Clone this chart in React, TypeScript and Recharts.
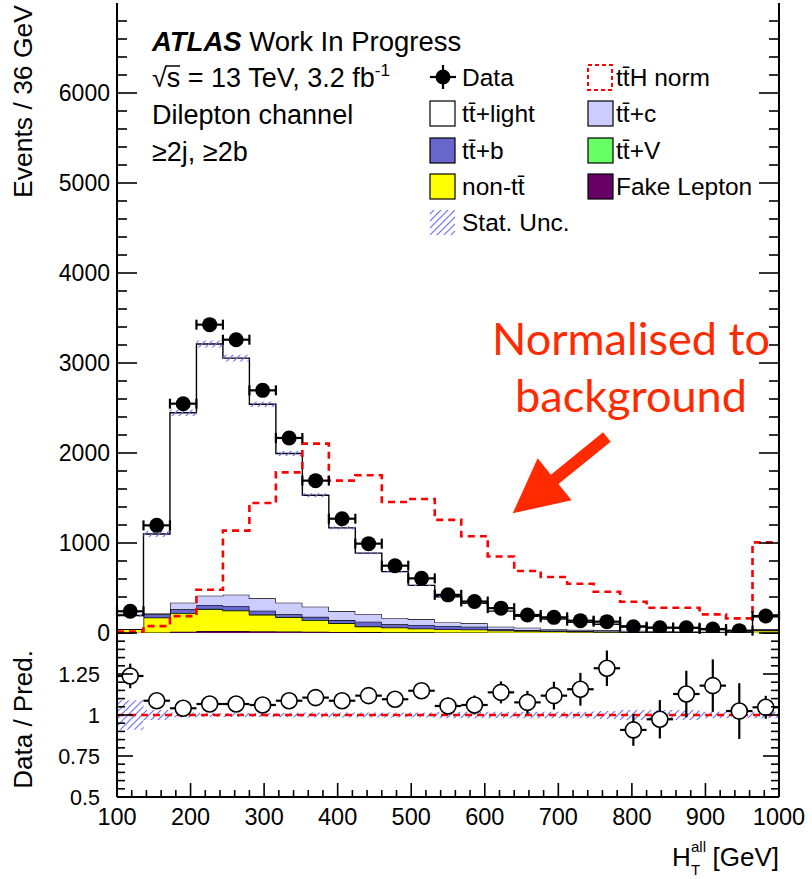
import React from 'react';
import {
  ComposedChart,
  Area,
  Line,
  Scatter,
  XAxis,
  YAxis,
  ErrorBar,
  ReferenceLine,
} from 'recharts';

const FONT = "'Liberation Sans', Arial, Helvetica, sans-serif";

// ---------------- data ----------------
const binEdges = [100, 136, 172, 208, 244, 280, 316, 352, 388, 424, 460, 496, 532, 568, 604, 640, 676, 712, 748, 784, 820, 856, 892, 928, 964, 1000];
const binCenters = [118, 154, 190, 226, 262, 298, 334, 370, 406, 442, 478, 514, 550, 586, 622, 658, 694, 730, 766, 802, 838, 874, 910, 946, 982];
const binHalfWidth = 18;

const dataEvents = [241, 1196, 2548, 3426, 3259, 2696, 2167, 1693, 1270, 993, 748, 607, 424, 350, 276, 200, 174, 137, 126, 70, 59, 59, 44, 26, 189];
const dataErr = [16, 35, 50, 59, 57, 52, 47, 41, 36, 32, 27, 25, 21, 19, 17, 14, 13, 12, 11, 8, 8, 8, 7, 5, 14];

const ttLight = [151, 882, 2111, 2796, 2628, 2156, 1657, 1238, 924, 677, 515, 374, 284, 223, 173, 127, 111, 83, 68, 52, 41, 34, 24, 14, 136];
const ttC = [0, 11, 74, 104, 126, 137, 130, 113, 100, 85, 71, 66, 40, 37, 29, 26, 18, 14, 12, 10, 8, 7, 5, 4, 10];
const ttB = [2, 34, 40, 42, 46, 42, 28, 35, 33, 52, 34, 38, 35, 31, 13, 9, 7, 6, 5, 4, 3, 3, 2, 2, 6];
const ttV = [1, 3, 5, 6, 6, 6, 5, 5, 4, 4, 3, 3, 3, 2, 2, 2, 2, 1, 1, 1, 1, 1, 1, 1, 3];
const nonTT = [38, 165, 203, 241, 226, 180, 156, 125, 95, 60, 51, 41, 34, 32, 22, 19, 15, 12, 10, 8, 7, 6, 4, 3, 22];
const fakeLep = [3, 5, 15, 22, 22, 20, 18, 15, 12, 10, 8, 7, 6, 5, 4, 3, 3, 2, 2, 2, 1, 1, 1, 1, 3];
const mcStatRel = [0.09, 0.03, 0.015, 0.012, 0.012, 0.012, 0.014, 0.015, 0.015, 0.015, 0.015, 0.015, 0.02, 0.02, 0.02, 0.02, 0.02, 0.02, 0.025, 0.03, 0.03, 0.03, 0.02, 0.02, 0.02];

const ttHnorm = [15, 76, 187, 481, 1137, 1444, 1785, 2104, 1693, 1752, 1456, 1489, 1257, 1075, 850, 689, 622, 548, 459, 348, 281, 281, 207, 163, 1007];

const ratio = [1.238, 1.087, 1.041, 1.067, 1.067, 1.061, 1.087, 1.106, 1.087, 1.118, 1.096, 1.148, 1.055, 1.061, 1.138, 1.077, 1.118, 1.157, 1.285, 0.909, 0.974, 1.128, 1.179, 1.024, 1.047];
const ratioErr = [0.075, 0.035, 0.022, 0.02, 0.02, 0.022, 0.025, 0.028, 0.032, 0.036, 0.04, 0.047, 0.052, 0.058, 0.067, 0.07, 0.085, 0.1, 0.108, 0.097, 0.117, 0.142, 0.16, 0.17, 0.07];

const xMajorTicks = [100, 200, 300, 400, 500, 600, 700, 800, 900, 1000];
const xTickLabels = ['100', '200', '300', '400', '500', '600', '700', '800', '900', '1000'];
const yMajorTicks = [0, 1000, 2000, 3000, 4000, 5000, 6000];
const yTickLabels = ['0', '1000', '2000', '3000', '4000', '5000', '6000'];
const rMajorTicks = [0.5, 0.75, 1, 1.25];
const rTickLabels = ['0.5', '0.75', '1', '1.25'];

// ---------------- tables built for the library ----------------
const stackRows = binEdges.map((x, i) => {
  const k = Math.min(i, binCenters.length - 1);
  const tot = ttLight[k] + ttC[k] + ttB[k] + ttV[k] + nonTT[k] + fakeLep[k];
  return {
    x,
    fake: fakeLep[k],
    nontt: nonTT[k],
    ttv: ttV[k],
    ttb: ttB[k],
    ttc: ttC[k],
    light: ttLight[k],
    tth: ttHnorm[k],
    unc: [tot * (1 - mcStatRel[k]), tot * (1 + mcStatRel[k])],
    runc: [1 - mcStatRel[k], 1 + mcStatRel[k]],
  };
});

const dataPoints = binCenters.map((x, i) => ({ x, y: dataEvents[i], ex: binHalfWidth, ey: dataErr[i] }));
const ratioPoints = binCenters.map((x, i) => ({ x, y: ratio[i], ex: binHalfWidth, ey: ratioErr[i] }));

const range = (a: number, b: number, s: number) => {
  const out: number[] = [];
  for (let v = a; v <= b + 1e-9; v += s) out.push(Math.round(v * 1000) / 1000);
  return out;
};
const xAllTicks = range(100, 1000, 20);
const yAllTicks = range(0, 6800, 200);
const rAllTicks = range(0.5, 1.5, 0.05);

// ---------------- tick renderers ----------------
type Side = 'bottom' | 'top' | 'left' | 'right';
function makeTick(side: Side, majors: number[], majorLen: number, minorLen: number, labels?: string[], fontSize = 23, labelOffset = 8) {
  return (props: any) => {
    const { x, y, payload } = props;
    const v = payload.value as number;
    const mi = majors.findIndex((m) => Math.abs(m - v) < 1e-6);
    const len = mi >= 0 ? majorLen : minorLen;
    let x2 = x, y2 = y;
    if (side === 'bottom') y2 = y - len;
    if (side === 'top') y2 = y + len;
    if (side === 'left') x2 = x + len;
    if (side === 'right') x2 = x - len;
    let label = null;
    if (labels && mi >= 0 && labels[mi]) {
      if (side === 'bottom') {
        label = (
          <text x={x} y={y + labelOffset} textAnchor="middle" fontFamily={FONT} fontSize={fontSize} fill="#000">
            {labels[mi]}
          </text>
        );
      } else if (side === 'left') {
        label = (
          <text x={x - labelOffset} y={y} dy="0.36em" textAnchor="end" fontFamily={FONT} fontSize={fontSize} fill="#000">
            {labels[mi]}
          </text>
        );
      }
    }
    return (
      <g>
        <line x1={x} y1={y} x2={x2} y2={y2} stroke="#000" strokeWidth={1.6} />
        {label}
      </g>
    );
  };
}

const FilledMarker = (p: any) => <circle cx={p.cx} cy={p.cy} r={7.5} fill="#000" />;
const OpenMarker = (p: any) => <circle cx={p.cx} cy={p.cy} r={8} fill="#fff" stroke="#000" strokeWidth={1.6} />;

const ArrowShape = (p: any) => {
  const { x1, y1, x2, y2 } = p;
  if ([x1, y1, x2, y2].some((v) => typeof v !== 'number' || isNaN(v))) return <g />;
  const dx = x2 - x1;
  const dy = y2 - y1;
  const L = Math.hypot(dx, dy) || 1;
  const ux = dx / L, uy = dy / L;
  const nx = -uy, ny = ux;
  const headLen = 54, headHalf = 27, shaftHalf = 6;
  const bx = x2 - ux * headLen, by = y2 - uy * headLen;
  const pts = [
    [x1 + nx * shaftHalf, y1 + ny * shaftHalf],
    [bx + nx * shaftHalf, by + ny * shaftHalf],
    [bx + nx * headHalf, by + ny * headHalf],
    [x2, y2],
    [bx - nx * headHalf, by - ny * headHalf],
    [bx - nx * shaftHalf, by - ny * shaftHalf],
    [x1 - nx * shaftHalf, y1 - ny * shaftHalf],
  ];
  return <polygon points={pts.map((q) => q.join(',')).join(' ')} fill="#ff2a00" />;
};

const arrowSegment = [
  { x: 766, y: 2178 },
  { x: 638, y: 1330 },
];

const axisLine = { stroke: '#000', strokeWidth: 2 };

const TT = 'tt\u0304';

export default function App() {
  return (
    <div style={{ position: 'absolute', left: 0, top: 0, width: 812, height: 879, background: '#fff', overflow: 'hidden' }}>
      <svg width={0} height={0} style={{ position: 'absolute' }}>
        <defs>
          <pattern id="hatch" patternUnits="userSpaceOnUse" width={7} height={7}>
            <line x1={0} y1={7} x2={7} y2={0} stroke="#6f6fff" strokeWidth={1.2} />
            <line x1={-1} y1={1} x2={1} y2={-1} stroke="#6f6fff" strokeWidth={1.2} />
            <line x1={6} y1={8} x2={8} y2={6} stroke="#6f6fff" strokeWidth={1.2} />
          </pattern>
        </defs>
      </svg>

      {/* upper panel */}
      <div style={{ position: 'absolute', left: 0, top: 0 }}>
        <ComposedChart width={812} height={660} data={stackRows} margin={{ top: 3, right: 0, bottom: 27, left: 0 }}>
          <XAxis xAxisId={0} dataKey="x" type="number" domain={[100, 1000]} ticks={xAllTicks} interval={0} height={0}
            tickSize={0} tickMargin={0} tickLine={false} axisLine={axisLine}
            tick={makeTick('bottom', xMajorTicks, 18, 9)} allowDataOverflow />
          <XAxis xAxisId="top" orientation="top" type="number" domain={[100, 1000]} ticks={xAllTicks} interval={0} height={0}
            tickSize={0} tickMargin={0} tickLine={false} axisLine={axisLine}
            tick={makeTick('top', xMajorTicks, 18, 9)} allowDataOverflow />
          <YAxis yAxisId={0} type="number" domain={[0, 7000]} ticks={yAllTicks} interval={0} width={117}
            tickSize={0} tickMargin={0} tickLine={false} axisLine={axisLine}
            tick={makeTick('left', yMajorTicks, 20, 10, yTickLabels, 23, 7)} allowDataOverflow />
          <YAxis yAxisId="right" orientation="right" type="number" domain={[0, 7000]} ticks={yAllTicks} interval={0} width={33}
            tickSize={0} tickMargin={0} tickLine={false} axisLine={axisLine}
            tick={makeTick('right', yMajorTicks, 20, 10)} allowDataOverflow />

          <Area type="stepAfter" dataKey="fake" stackId="mc" fill="#660066" fillOpacity={1} stroke="#000" strokeWidth={1.2} isAnimationActive={false} dot={false} activeDot={false} />
          <Area type="stepAfter" dataKey="nontt" stackId="mc" fill="#ffff00" fillOpacity={1} stroke="#000" strokeWidth={1.2} isAnimationActive={false} dot={false} activeDot={false} />
          <Area type="stepAfter" dataKey="ttv" stackId="mc" fill="#66ff66" fillOpacity={1} stroke="#000" strokeWidth={1} isAnimationActive={false} dot={false} activeDot={false} />
          <Area type="stepAfter" dataKey="ttb" stackId="mc" fill="#6666cc" fillOpacity={1} stroke="#000" strokeWidth={1.2} isAnimationActive={false} dot={false} activeDot={false} />
          <Area type="stepAfter" dataKey="ttc" stackId="mc" fill="#ccccff" fillOpacity={1} stroke="#000" strokeWidth={1.2} isAnimationActive={false} dot={false} activeDot={false} />
          <Area type="stepAfter" dataKey="light" stackId="mc" fill="#ffffff" fillOpacity={1} stroke="#000" strokeWidth={1.4} isAnimationActive={false} dot={false} activeDot={false} />
          <Area type="stepAfter" dataKey="unc" fill="url(#hatch)" fillOpacity={1} stroke="none" isAnimationActive={false} dot={false} activeDot={false} />
          <Line type="stepAfter" dataKey="tth" stroke="#ff0000" strokeWidth={2.6} strokeDasharray="7 5" dot={false} activeDot={false} isAnimationActive={false} />
          <ReferenceLine segment={arrowSegment} shape={ArrowShape} ifOverflow="visible" />
          <Scatter data={dataPoints} dataKey="y" shape={FilledMarker} isAnimationActive={false}>
            <ErrorBar dataKey="ex" direction="x" width={5} stroke="#000" strokeWidth={2.2} />
            <ErrorBar dataKey="ey" direction="y" width={0} stroke="#000" strokeWidth={2.2} />
          </Scatter>
        </ComposedChart>
      </div>

      {/* ratio panel */}
      <div style={{ position: 'absolute', left: 0, top: 633 }}>
        <ComposedChart width={812} height={246} data={stackRows} margin={{ top: 0, right: 0, bottom: 0, left: 0 }}>
          <XAxis xAxisId={0} dataKey="x" type="number" domain={[100, 1000]} ticks={xAllTicks} interval={0} height={82}
            tickSize={0} tickMargin={0} tickLine={false} axisLine={axisLine}
            tick={makeTick('bottom', xMajorTicks, 14, 7, xTickLabels, 23.5, 28)} allowDataOverflow />
          <YAxis yAxisId={0} type="number" domain={[0.5, 1.5]} ticks={rAllTicks} interval={0} width={117}
            tickSize={0} tickMargin={0} tickLine={false} axisLine={axisLine}
            tick={makeTick('left', rMajorTicks.concat([1.5]), 16, 8, rTickLabels.concat(['']), 21.5, 17)} allowDataOverflow />
          <YAxis yAxisId="right" orientation="right" type="number" domain={[0.5, 1.5]} ticks={rAllTicks} interval={0} width={33}
            tickSize={0} tickMargin={0} tickLine={false} axisLine={axisLine}
            tick={makeTick('right', rMajorTicks.concat([1.5]), 16, 8)} allowDataOverflow />
          <Area type="stepAfter" dataKey="runc" fill="url(#hatch)" fillOpacity={1} stroke="none" isAnimationActive={false} dot={false} activeDot={false} />
          <ReferenceLine y={1} stroke="#ff0000" strokeWidth={2.6} strokeDasharray="7 5" />
          <Scatter data={ratioPoints} dataKey="y" shape={OpenMarker} isAnimationActive={false}>
            <ErrorBar dataKey="ex" direction="x" width={0} stroke="#000" strokeWidth={2.2} />
            <ErrorBar dataKey="ey" direction="y" width={0} stroke="#000" strokeWidth={2.2} />
          </Scatter>
        </ComposedChart>
      </div>

      {/* texts and legend */}
      <svg width={812} height={879} style={{ position: 'absolute', left: 0, top: 0, pointerEvents: 'none' }}>
        <g fontFamily={FONT} fill="#000">
          <text x={32} y={5} transform="rotate(-90 32 5)" textAnchor="end" fontSize={26.5}>Events / 36 GeV</text>
          <text x={32} y={650} transform="rotate(-90 32 650)" textAnchor="end" fontSize={26}>Data / Pred.</text>

          <text x={672} y={866} fontSize={26}>H</text>
          <text x={691} y={852} fontSize={15}>all</text>
          <text x={691} y={875} fontSize={15}>T</text>
          <text x={779} y={866} fontSize={26} textAnchor="end">[GeV]</text>

          <text x={152} y={51} fontSize={27.5}>
            <tspan fontWeight="bold" fontStyle="italic">ATLAS</tspan>
            <tspan> Work In Progress</tspan>
          </text>
          <text x={152} y={87} fontSize={27}>
            √s = 13 TeV, 3.2 fb<tspan dy={-11} fontSize={17}>-1</tspan>
          </text>
          <line x1={166} y1={66} x2={180} y2={66} stroke="#000" strokeWidth={1.5} />
          <text x={152} y={124} fontSize={27}>Dilepton channel</text>
          <text x={152} y={161} fontSize={27}>≥2j, ≥2b</text>

          {/* legend column 1 */}
          <line x1={430} y1={77} x2={456} y2={77} stroke="#000" strokeWidth={2.2} />
          <line x1={443} y1={65} x2={443} y2={89} stroke="#000" strokeWidth={2.2} />
          <circle cx={443} cy={77} r={7.5} fill="#000" />
          <text x={462} y={86} fontSize={24.5}>Data</text>

          <rect x={430} y={101} width={25} height={25} fill="#fff" stroke="#000" strokeWidth={1.2} />
          <text x={462} y={122} fontSize={24.5}>{TT}+light</text>

          <rect x={430} y={138} width={25} height={25} fill="#6666cc" stroke="#000" strokeWidth={1.2} />
          <text x={462} y={159} fontSize={24.5}>{TT}+b</text>

          <rect x={430} y={174} width={25} height={25} fill="#ffff00" stroke="#000" strokeWidth={1.2} />
          <text x={462} y={195} fontSize={24.5}>non-{TT}</text>

          <rect x={430} y={210} width={25} height={25} fill="url(#hatch)" stroke="none" />
          <text x={462} y={231} fontSize={24.5}>Stat. Unc.</text>

          {/* legend column 2 */}
          <rect x={588} y={65} width={24} height={25} fill="none" stroke="#ff0000" strokeWidth={2} strokeDasharray="4 3" />
          <text x={616} y={86} fontSize={24.5}>{TT}H norm</text>

          <rect x={588} y={101} width={25} height={25} fill="#ccccff" stroke="#000" strokeWidth={1.2} />
          <text x={616} y={122} fontSize={24.5}>{TT}+c</text>

          <rect x={588} y={138} width={25} height={25} fill="#66ff66" stroke="#000" strokeWidth={1.2} />
          <text x={616} y={159} fontSize={24.5}>{TT}+V</text>

          <rect x={588} y={174} width={25} height={25} fill="#660066" stroke="#000" strokeWidth={1.2} />
          <text x={616} y={195} fontSize={24.5}>Fake Lepton</text>
        </g>
        <g fontFamily="Lato, 'Open Sans', sans-serif" fill="#ff2a00" fontSize={44} textAnchor="middle">
          <text x={631} y={355} textLength={278} lengthAdjust="spacingAndGlyphs">Normalised to</text>
          <text x={631} y={412} textLength={232} lengthAdjust="spacingAndGlyphs">background</text>
        </g>
      </svg>
    </div>
  );
}
